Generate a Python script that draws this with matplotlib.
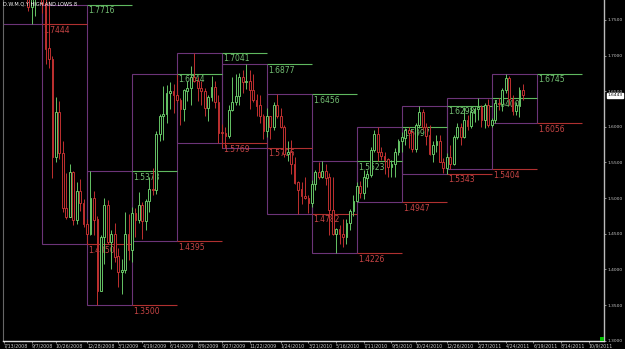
import matplotlib
matplotlib.use('Agg')
import matplotlib.pyplot as plt
import matplotlib.dates as mdates
from matplotlib.patches import Rectangle
import pandas as pd
import numpy as np

# ---------------- data ----------------
first_week = '2008-07-13'
opens = [1.9960, 1.9980, 1.9890, 1.9700, 1.9150, 1.8650, 1.8560, 1.8200, 1.7680, 1.7900,
         1.8200, 1.8300, 1.7730, 1.7100, 1.6950, 1.5580, 1.6200, 1.5630, 1.4860, 1.4740,
         1.5370, 1.4700, 1.5100, 1.4930, 1.4640, 1.4500, 1.5000, 1.4700, 1.3700, 1.4450,
         1.4900, 1.4380, 1.4500, 1.4180, 1.3970, 1.3990, 1.4500, 1.4280, 1.4790, 1.4700,
         1.4900, 1.4680, 1.4960, 1.5130, 1.5110, 1.5900, 1.6150, 1.6180, 1.6480, 1.6500,
         1.6450, 1.6380, 1.6250, 1.6510, 1.6550, 1.6700, 1.6640, 1.6550, 1.6500, 1.6270,
         1.6420, 1.6560, 1.6350, 1.5920, 1.5910, 1.5870, 1.6240, 1.6350, 1.6430, 1.6700,
         1.6630, 1.6640, 1.6520, 1.6380, 1.6300, 1.6150, 1.5950, 1.6150, 1.6000, 1.6300,
         1.6150, 1.6000, 1.5620, 1.5640, 1.5480, 1.5220, 1.5120, 1.5030, 1.5000, 1.4930,
         1.5200, 1.5370, 1.5300, 1.5380, 1.5290, 1.4830, 1.4500, 1.4560, 1.4500, 1.4450,
         1.4650, 1.4820, 1.4960, 1.5170, 1.5070, 1.5290, 1.5330, 1.5680, 1.5900, 1.5650,
         1.5590, 1.5540, 1.5440, 1.5480, 1.5650, 1.5800, 1.5850, 1.5950, 1.5920, 1.5690,
         1.6030, 1.6200, 1.6000, 1.5880, 1.5620, 1.5750, 1.5800, 1.5510, 1.5430, 1.5580,
         1.5480, 1.5860, 1.6000, 1.5860, 1.6100, 1.6020, 1.6200, 1.6250, 1.6270, 1.6100,
         1.6300, 1.6030, 1.6100, 1.6330, 1.6320, 1.6520, 1.6690, 1.6390, 1.6230, 1.6300,
         1.6520]
highs = [2.0157, 2.0050, 1.9950, 1.9760, 1.9200, 1.8800, 1.8680, 1.8240, 1.7950, 1.8250,
         1.8680, 1.8470, 1.7790, 1.7760, 1.7000, 1.6420, 1.6360, 1.5800, 1.5350, 1.5480,
         1.5380, 1.5220, 1.5275, 1.4990, 1.4700, 1.5378, 1.5100, 1.4750, 1.4480, 1.5000,
         1.4980, 1.4550, 1.4650, 1.4300, 1.4150, 1.4800, 1.4780, 1.4880, 1.4860, 1.5080,
         1.4950, 1.4990, 1.5300, 1.5420, 1.5940, 1.6180, 1.6580, 1.6590, 1.6630, 1.6600,
         1.6744, 1.6400, 1.6530, 1.6650, 1.6850, 1.7041, 1.6700, 1.6650, 1.6550, 1.6450,
         1.6720, 1.6650, 1.6450, 1.6040, 1.6000, 1.6300, 1.6700, 1.6740, 1.6750, 1.6800,
         1.6877, 1.6800, 1.6740, 1.6460, 1.6440, 1.6180, 1.6270, 1.6150, 1.6350, 1.6456,
         1.6260, 1.6030, 1.5800, 1.5820, 1.5580, 1.5240, 1.5230, 1.5300, 1.5050, 1.5260,
         1.5400, 1.5500, 1.5523, 1.5480, 1.5350, 1.5300, 1.4580, 1.4620, 1.4700, 1.4700,
         1.4850, 1.5040, 1.5230, 1.5240, 1.5400, 1.5400, 1.5720, 1.5950, 1.5997, 1.5720,
         1.5650, 1.5560, 1.5530, 1.5700, 1.5830, 1.5930, 1.5990, 1.6000, 1.5950, 1.6050,
         1.6298, 1.6250, 1.6050, 1.6030, 1.5800, 1.5880, 1.5880, 1.5560, 1.5640, 1.5740,
         1.5890, 1.6060, 1.6050, 1.6280, 1.6170, 1.6280, 1.6280, 1.6400, 1.6300, 1.6330,
         1.6390, 1.6130, 1.6370, 1.6400, 1.6550, 1.6745, 1.6720, 1.6450, 1.6350, 1.6560,
         1.6600]
lows = [1.9880, 1.9830, 1.9620, 1.9030, 1.8600, 1.8510, 1.8150, 1.7620, 1.7444, 1.7550,
        1.8150, 1.7600, 1.6880, 1.6830, 1.5280, 1.5500, 1.5550, 1.4800, 1.4700, 1.4730,
        1.4620, 1.4630, 1.4820, 1.4600, 1.4350, 1.4480, 1.4480, 1.3503, 1.3700, 1.4070,
        1.4350, 1.4000, 1.4100, 1.3750, 1.3660, 1.3950, 1.4130, 1.4100, 1.4450, 1.4650,
        1.4420, 1.4550, 1.4800, 1.5050, 1.5060, 1.5800, 1.5820, 1.6050, 1.6250, 1.6200,
        1.6350, 1.6030, 1.6080, 1.6360, 1.6300, 1.6630, 1.6360, 1.6300, 1.6150, 1.6080,
        1.6360, 1.6270, 1.5780, 1.5710, 1.5706, 1.5850, 1.6220, 1.6300, 1.6300, 1.6480,
        1.6530, 1.6250, 1.6350, 1.6150, 1.6050, 1.5830, 1.5860, 1.5830, 1.5950, 1.6120,
        1.5980, 1.5580, 1.5520, 1.5340, 1.5200, 1.4782, 1.4920, 1.4990, 1.4790, 1.4870,
        1.5110, 1.5270, 1.5280, 1.5190, 1.4480, 1.4480, 1.4226, 1.4350, 1.4320, 1.4350,
        1.4550, 1.4750, 1.4947, 1.5000, 1.4990, 1.5150, 1.5300, 1.5650, 1.5520, 1.5530,
        1.5340, 1.5290, 1.5300, 1.5300, 1.5600, 1.5650, 1.5750, 1.5700, 1.5650, 1.5650,
        1.5990, 1.5950, 1.5750, 1.5600, 1.5500, 1.5650, 1.5500, 1.5350, 1.5343, 1.5404,
        1.5470, 1.5830, 1.5750, 1.5840, 1.5950, 1.5990, 1.6070, 1.6100, 1.6000, 1.5990,
        1.6000, 1.6000, 1.6060, 1.6240, 1.6220, 1.6480, 1.6310, 1.6160, 1.6170, 1.6140,
        1.6380]
closes = [1.9980, 1.9890, 1.9700, 1.9150, 1.8650, 1.8560, 1.8200, 1.7680, 1.7900, 1.8200,
          1.8300, 1.7730, 1.7100, 1.6950, 1.5580, 1.6200, 1.5630, 1.4860, 1.4740, 1.5370,
          1.4700, 1.5100, 1.4930, 1.4640, 1.4500, 1.5000, 1.4700, 1.3700, 1.4450, 1.4900,
          1.4380, 1.4500, 1.4180, 1.3970, 1.3990, 1.4500, 1.4280, 1.4790, 1.4700, 1.4900,
          1.4680, 1.4960, 1.5130, 1.5110, 1.5900, 1.6150, 1.6180, 1.6480, 1.6500, 1.6450,
          1.6380, 1.6250, 1.6510, 1.6550, 1.6700, 1.6640, 1.6550, 1.6500, 1.6270, 1.6420,
          1.6560, 1.6350, 1.5920, 1.5910, 1.5870, 1.6240, 1.6350, 1.6430, 1.6700, 1.6630,
          1.6640, 1.6520, 1.6380, 1.6300, 1.6150, 1.5950, 1.6150, 1.6000, 1.6300, 1.6150,
          1.6000, 1.5620, 1.5640, 1.5480, 1.5220, 1.5120, 1.5030, 1.5000, 1.4930, 1.5200,
          1.5370, 1.5300, 1.5380, 1.5290, 1.4830, 1.4500, 1.4560, 1.4500, 1.4450, 1.4650,
          1.4820, 1.4960, 1.5170, 1.5070, 1.5290, 1.5330, 1.5680, 1.5900, 1.5650, 1.5590,
          1.5540, 1.5440, 1.5480, 1.5650, 1.5800, 1.5850, 1.5950, 1.5920, 1.5690, 1.6030,
          1.6200, 1.6000, 1.5880, 1.5620, 1.5750, 1.5800, 1.5510, 1.5430, 1.5580, 1.5480,
          1.5860, 1.6000, 1.5860, 1.6100, 1.6020, 1.6200, 1.6250, 1.6270, 1.6100, 1.6300,
          1.6030, 1.6100, 1.6330, 1.6320, 1.6520, 1.6690, 1.6390, 1.6230, 1.6300, 1.6520,
          1.6443]

quarter_starts = ['2008-06-29', '2008-09-28', '2008-12-28', '2009-03-29', '2009-06-28',
                  '2009-09-27', '2009-12-27', '2010-03-28', '2010-06-27', '2010-09-26',
                  '2010-12-26', '2011-03-27', '2011-06-26', '2011-09-25']
quarter_high = [2.0156, 1.7716, 1.5378, 1.6744, 1.7041, 1.6877, 1.6456, 1.5523, 1.5997,
                1.6298, 1.6400, 1.6745]
quarter_low = [1.7444, 1.4350, 1.3500, 1.4395, 1.5769, 1.5706, 1.4782, 1.4226, 1.4947,
               1.5343, 1.5404, 1.6056]

ytick_values = [1.30, 1.35, 1.40, 1.45, 1.50, 1.55, 1.60, 1.65, 1.70, 1.75]
xtick_dates = ['2008-07-13', '2008-09-07', '2008-10-26', '2008-12-28', '2009-03-01',
               '2009-04-19', '2009-06-14', '2009-08-09', '2009-09-27', '2009-11-22',
               '2010-01-24', '2010-03-21', '2010-05-16', '2010-07-11', '2010-09-05',
               '2010-10-24', '2010-12-26', '2011-02-27', '2011-04-24', '2011-06-19',
               '2011-08-14', '2011-10-09']
xtick_labels = ['7/13/2008', '9/7/2008', '10/26/2008', '12/28/2008', '3/1/2009',
                '4/19/2009', '6/14/2009', '8/9/2009', '9/27/2009', '11/22/2009',
                '1/24/2010', '3/21/2010', '5/16/2010', '7/11/2010', '9/5/2010',
                '10/24/2010', '12/26/2010', '2/27/2011', '4/24/2011', '6/19/2011',
                '8/14/2011', '10/9/2011']
current_price = 1.6443
indicator_title = 'D.W.M.Q.Y HIGH AND LOWS 8'

# ---------------- style ----------------
BG = 'black'
UP = '#66c466'
DOWN = '#bf3030'
BOX = '#6c3478'
HI_LINE = '#5fb85f'
LO_LINE = '#b03030'
HI_TXT = '#74c074'
LO_TXT = '#c84545'
AXC = '#c8c8c8'

W, H = 625, 349
fig = plt.figure(figsize=(W / 100, H / 100), dpi=100, facecolor=BG)
ax = fig.add_axes([3 / W, 8 / H, 601 / W, 341 / H])
ax.set_facecolor(BG)

dates = pd.date_range(first_week, periods=len(opens), freq='7D')
xd = mdates.date2num(dates)
o = np.array(opens); h = np.array(highs); l = np.array(lows); c = np.array(closes)
cols = [UP if cc >= oo else DOWN for oo, cc in zip(o, c)]

# quarter boxes and projected levels
qs = mdates.date2num(pd.to_datetime(quarter_starts))
for q in range(len(quarter_high)):
    x0, x1, x2 = qs[q], qs[q + 1], qs[q + 2]
    hi, lo = quarter_high[q], quarter_low[q]
    ax.add_patch(Rectangle((x0, lo), x1 - x0, hi - lo, fill=False,
                           edgecolor=BOX, linewidth=0.8, zorder=1))
    ax.hlines(hi, x1, x2, colors=HI_LINE, linewidth=0.8, zorder=1.5)
    ax.hlines(lo, x1, x2, colors=LO_LINE, linewidth=0.8, zorder=1.5)
    ax.annotate(f'{hi:.4f}', xy=(x1, hi), xytext=(1, -1.2), textcoords='offset points',
                ha='left', va='top', fontsize=5.5, color=HI_TXT, zorder=1.6,
                annotation_clip=True)
    ax.annotate(f'{lo:.4f}', xy=(x1, lo), xytext=(1, -1.2), textcoords='offset points',
                ha='left', va='top', fontsize=5.5, color=LO_TXT, zorder=1.6,
                annotation_clip=True)

# candles
ax.vlines(xd, l, h, colors=cols, linewidth=0.7, zorder=3)
ax.bar(xd, np.abs(c - o) + 0.0004, bottom=np.minimum(o, c) - 0.0002, width=3.6,
       color=BG, edgecolor=cols, linewidth=0.7, zorder=4)

x_left = mdates.date2num(pd.Timestamp(first_week)) - 2
ax.set_xlim(x_left, x_left + 1216)
ax.set_ylim(1.2995, 1.778)

# axes styling
ax.spines['top'].set_visible(False)
ax.spines['left'].set_color('#666666')
ax.spines['left'].set_linewidth(0.8)
ax.spines['right'].set_color('#bbbbbb')
ax.spines['right'].set_linewidth(1.0)
ax.spines['bottom'].set_color('#dddddd')
ax.spines['bottom'].set_linewidth(1.0)

ax.yaxis.tick_right()
ax.set_yticks(ytick_values)
ax.set_yticklabels([f'{v:.4f}' for v in ytick_values])
ax.tick_params(axis='y', colors=AXC, labelsize=3.2, length=1.2, width=0.5, pad=1.2)
ax.set_xticks(mdates.date2num(pd.to_datetime(xtick_dates)))
ax.set_xticklabels(xtick_labels, ha='left')
ax.tick_params(axis='x', colors=AXC, labelsize=3.4, length=1.2, width=0.5, pad=0.8)

# current price tag
ax.text(1.006, current_price, f'{current_price:.4f}', transform=ax.get_yaxis_transform(),
        ha='left', va='center', fontsize=3.2, color='black',
        bbox=dict(boxstyle='square,pad=0.12', facecolor='white', edgecolor='white'))

# indicator caption
fig.text(3 / W, 1 - 4 / H, indicator_title, ha='left', va='center', fontsize=3.6,
         color='white')

# small green status square at bottom right
fig.patches.append(Rectangle((600 / W, 8 / H), 4 / W, 4 / H, transform=fig.transFigure,
                             facecolor='#00c000', edgecolor='none', figure=fig))

fig.savefig('out.png', dpi=100, facecolor=BG)
